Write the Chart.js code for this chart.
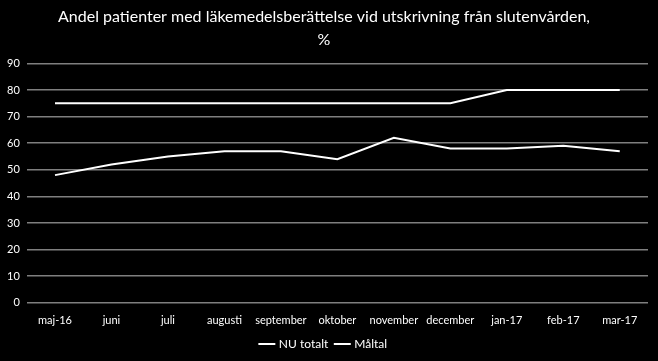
<!DOCTYPE html>
<html><head><meta charset="utf-8">
<script src="https://cdn.jsdelivr.net/npm/chart.js@4/dist/chart.umd.min.js"></script>
<style>html,body{margin:0;padding:0;background:#000;}#wrap{width:658px;height:361px;}</style>
</head><body><div id="wrap"><canvas id="c" width="658" height="361"></canvas></div>
<script>
const categories = ["maj-16","juni","juli","augusti","september","oktober","november","december","jan-17","feb-17","mar-17"];
const nuTotalt = [48,52,55,57,57,54,62,58,58,59,57];
const maltal = [75,75,75,75,75,75,75,75,80,80,80];
const yTicks = [0,10,20,30,40,50,60,70,80,90];
const FONT = "Lato, 'Open Sans', sans-serif";
new Chart(document.getElementById('c'), {
  type: 'line',
  data: {
    labels: categories,
    datasets: [
      {label: 'NU totalt', data: nuTotalt, borderColor: '#ffffff', backgroundColor: '#ffffff', borderWidth: 2, pointRadius: 0, tension: 0},
      {label: 'Måltal', data: maltal, borderColor: '#ffffff', backgroundColor: '#ffffff', borderWidth: 2, pointRadius: 0, tension: 0}
    ]
  },
  options: {
    responsive: false, animation: false,
    layout: {padding: {left: 0, right: 10, top: 3, bottom: 1}},
    plugins: {
      title: {display: true, text: ['Andel patienter med läkemedelsberättelse vid utskrivning från slutenvården,', '%'],
        color: '#ffffff', font: {family: FONT, size: 16, weight: 'normal', lineHeight: 1.45}, padding: {top: 2, bottom: 12}},
      legend: {position: 'bottom', labels: {color: '#ffffff', usePointStyle: true, pointStyle: 'line', boxWidth: 30, font: {family: FONT, size: 12}, padding: 8}},
      tooltip: {enabled: false}
    },
    scales: {
      x: {offset: true, grid: {display: false}, border: {display: false},
        ticks: {color: '#ffffff', font: {family: FONT, size: 11}, maxRotation: 0, autoSkip: false, padding: 3}},
      y: {min: 0, max: 90, afterBuildTicks: (s) => { s.ticks = yTicks.map(v => ({value: v})); },
        grid: {color: '#7f7f7f', lineWidth: 1.5, drawTicks: false}, border: {display: false},
        ticks: {color: '#ffffff', font: {family: FONT, size: 11}, padding: 7}}
    }
  }
});
</script></body></html>
